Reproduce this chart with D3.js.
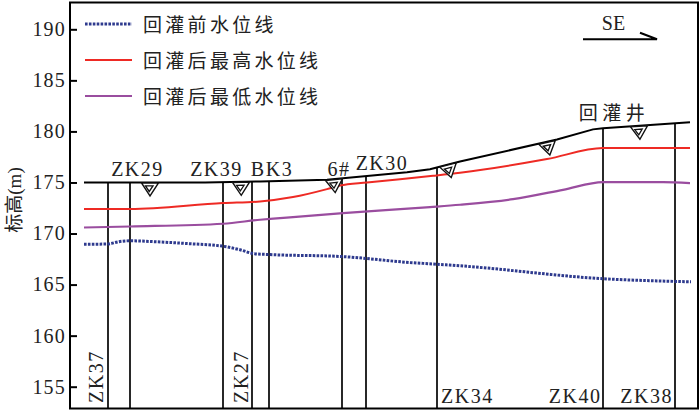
<!DOCTYPE html>
<html>
<head>
<meta charset="utf-8">
<script src="https://cdn.jsdelivr.net/npm/d3@7"></script>
<style>
body { margin: 0; background: #fff; }
</style>
</head>
<body>
<svg width="700" height="411"></svg>
<script>
// distance along the profile (arbitrary units) and elevation (m)
var groundDist = [14, 135, 190, 257, 337, 360, 390, 487, 523, 533, 620];
var groundElev = [175.0, 175.0, 175.1, 175.26, 176.0, 176.3, 177.06, 179.2, 180.2, 180.3, 180.9];

var beforeDist = [14, 37, 50, 60, 87, 120, 152, 170, 184, 200, 271, 340, 366, 390, 534, 621];
var beforeElev = [168.95, 168.97, 169.22, 169.29, 169.19, 169.0, 168.77, 168.41, 168.03, 167.94, 167.75, 167.16, 167.0, 166.84, 165.57, 165.27];

var maxDist = [14, 60, 153, 190, 223, 257, 270, 297, 363, 390, 477, 533, 620];
var maxElev = [172.39, 172.39, 172.98, 173.14, 173.57, 174.35, 174.7, 175.0, 175.65, 175.95, 177.29, 178.37, 178.37];

var minDist = [14, 60, 153, 190, 210, 273, 360, 390, 443, 493, 533, 593, 620];
var minElev = [170.59, 170.69, 170.96, 171.35, 171.51, 172.0, 172.59, 172.82, 173.37, 174.28, 175.04, 175.04, 174.94];

var wellNames = ["ZK37", "ZK29", "ZK39", "ZK27", "BK3", "6#", "ZK30", "ZK34", "ZK40", "ZK38"];
var wellDist = [38, 60, 153, 182, 199, 272, 296, 367, 533, 605];

var markerDist = [80, 171, 264, 378, 477, 569];

var siteName = "回灌井";
var siteDist = 544;

var legendNames = ["回灌前水位线", "回灌后最高水位线", "回灌后最低水位线"];
var yTicks = [155, 160, 165, 170, 175, 180, 185, 190];

var FONT = '"Liberation Serif", "Noto Sans CJK SC", serif';

var svg = d3.select("svg");

var x = d3.scaleLinear().domain([0, 628]).range([70, 698]);
var y = d3.scaleLinear().domain([155, 190]).range([386.7, 29.3]);
var groundAt = d3.scaleLinear().domain(groundDist).range(groundElev);
var bottomY = 408.5;

function pairs(a, b) { return a.map(function(v, i) { return [v, b[i]]; }); }

// wells
svg.append("g")
	.selectAll("line")
	.data(wellDist)
	.enter().append("line")
	.attr("x1", function(d) { return x(d); })
	.attr("x2", function(d) { return x(d); })
	.attr("y1", function(d) { return y(groundAt(d)); })
	.attr("y2", bottomY)
	.style("stroke", "#111")
	.style("stroke-width", 1.8);

var smooth = d3.line()
	.x(function(d) { return x(d[0]); })
	.y(function(d) { return y(d[1]); })
	.curve(d3.curveMonotoneX);

var series = [
	{ pts: pairs(beforeDist, beforeElev), color: "#2e3a8e", width: 3, dash: "2.6,1.3" },
	{ pts: pairs(maxDist, maxElev), color: "#ee2a24", width: 2, dash: null },
	{ pts: pairs(minDist, minElev), color: "#9a4d9f", width: 2.2, dash: null }
];

svg.append("g")
	.selectAll("path")
	.data(series)
	.enter().append("path")
	.attr("d", function(d) { return smooth(d.pts); })
	.style("fill", "none")
	.style("stroke", function(d) { return d.color; })
	.style("stroke-width", function(d) { return d.width; })
	.style("stroke-dasharray", function(d) { return d.dash; });

// ground surface
var straight = d3.line()
	.x(function(d) { return x(d[0]); })
	.y(function(d) { return y(d[1]); });

svg.append("path")
	.attr("d", straight(pairs(groundDist, groundElev)))
	.style("fill", "none")
	.style("stroke", "#000")
	.style("stroke-width", 2);

// water level markers
var mk = svg.append("g")
	.selectAll("g")
	.data(markerDist)
	.enter().append("g")
	.attr("transform", function(d) {
		var a = Math.atan2(y(groundAt(d + 6)) - y(groundAt(d - 6)), x(d + 6) - x(d - 6)) * 180 / Math.PI;
		return "translate(" + x(d) + "," + (y(groundAt(d)) + 0.5) + ") rotate(" + a + ")";
	});
mk.append("path")
	.attr("d", "M-8.5,0L8.5,0L0,13Z")
	.style("fill", "#fff")
	.style("stroke", "#111")
	.style("stroke-width", 1.4);
mk.append("path")
	.attr("d", "M-4.5,3L3,3L-0.8,8.5Z")
	.style("fill", "none")
	.style("stroke", "#111")
	.style("stroke-width", 1.3);

// well labels
var place = {
	"ZK37": { mode: "rot", dx: -5 },
	"ZK29": { mode: "top", dx: 7.5, dy: -6 },
	"ZK39": { mode: "top", dx: -6.5, dy: -6.3 },
	"ZK27": { mode: "rot", dx: -4 },
	"BK3": { mode: "top", dx: 3, dy: -4.8 },
	"6#": { mode: "top", dx: -3, dy: -2.8 },
	"ZK30": { mode: "top", dx: 16, dy: -5.7 },
	"ZK34": { mode: "bstart", dx: 4 },
	"ZK40": { mode: "bend", dx: -1.5 },
	"ZK38": { mode: "bend", dx: -2 }
};

var labels = svg.append("g")
	.style("font-family", FONT)
	.style("font-size", "20px")
	.attr("letter-spacing", 1.5)
	.style("fill", "#222");

wellNames.forEach(function(name, i) {
	var p = place[name], wx = x(wellDist[i]);
	var t = labels.append("text").text(name);
	if (p.mode === "rot") {
		t.attr("transform", "translate(" + (wx + p.dx) + "," + 403 + ") rotate(-90)")
			.attr("text-anchor", "start");
	} else if (p.mode === "top") {
		t.attr("x", wx + p.dx).attr("y", y(groundAt(wellDist[i])) + p.dy)
			.attr("text-anchor", "middle");
	} else if (p.mode === "bstart") {
		t.attr("x", wx + p.dx).attr("y", 403).attr("text-anchor", "start");
	} else {
		t.attr("x", wx + p.dx).attr("y", 403).attr("text-anchor", "end");
	}
});

labels.append("text")
	.attr("x", x(siteDist))
	.attr("y", y(groundAt(siteDist)) - 7.2)
	.attr("text-anchor", "middle")
	.attr("letter-spacing", 4.5)
	.style("font-size", "19px")
	.text(siteName);

// direction arrow
svg.append("text")
	.attr("x", 613.5)
	.attr("y", 30)
	.attr("text-anchor", "middle")
	.style("font-family", FONT)
	.style("font-size", "20px")
	.style("fill", "#222")
	.text("SE");
svg.append("path")
	.attr("d", "M583,39.3L657,39.3L640,32.7")
	.style("fill", "none")
	.style("stroke", "#000")
	.style("stroke-width", 2);

// legend
var legColors = series.map(function(s) { return s; });
var leg = svg.append("g")
	.selectAll("g")
	.data(legendNames)
	.enter().append("g")
	.attr("transform", function(d, i) { return "translate(0," + (24 + i * 36) + ")"; });
leg.append("line")
	.attr("x1", 85).attr("x2", 132)
	.style("stroke", function(d, i) { return legColors[i].color; })
	.style("stroke-width", function(d, i) { return legColors[i].width; })
	.style("stroke-dasharray", function(d, i) { return legColors[i].dash; });
leg.append("text")
	.attr("x", 143)
	.attr("y", 7.5)
	.attr("letter-spacing", 3.3)
	.style("font-family", FONT)
	.style("font-size", "19px")
	.style("fill", "#222")
	.text(function(d) { return d; });

// y axis
var yAxis = svg.append("g")
	.attr("transform", "translate(70,0)")
	.call(d3.axisLeft(y).tickValues(yTicks).tickSize(-7).tickPadding(4));
yAxis.select(".domain").remove();
yAxis.selectAll("line").style("stroke", "#000").style("stroke-width", 2);
yAxis.selectAll("text")
	.style("font-family", FONT)
	.style("font-size", "20px")
	.attr("letter-spacing", 1.2)
	.style("fill", "#222");

svg.append("text")
	.attr("transform", "translate(21,200) rotate(-90)")
	.attr("text-anchor", "middle")
	.style("font-family", FONT)
	.style("font-size", "19px")
	.style("fill", "#222")
	.text("标高(m)");

// frame
svg.append("rect")
	.attr("x", 70).attr("y", 2.5)
	.attr("width", 628).attr("height", bottomY - 2.5)
	.style("fill", "none")
	.style("stroke", "#000")
	.style("stroke-width", 2);
</script>
</body>
</html>
